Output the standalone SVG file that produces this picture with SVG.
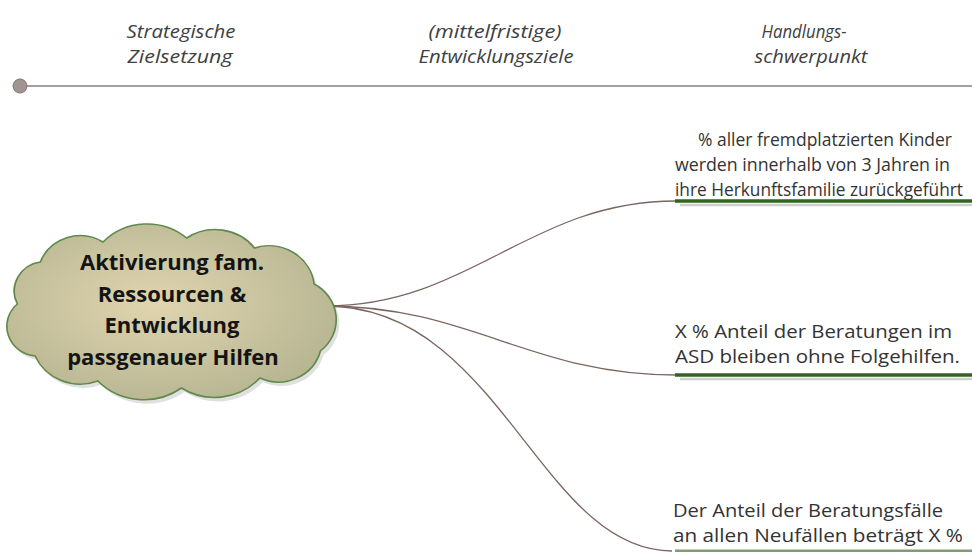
<svg xmlns="http://www.w3.org/2000/svg" width="972" height="552" viewBox="0 0 972 552">
<style>
.hdr{font-family:"Open Sans","Noto Sans",sans-serif;font-style:italic;font-size:18px;fill:#404040;text-anchor:middle}
.ctext{font-family:"Open Sans","Noto Sans",sans-serif;font-weight:bold;font-size:22px;fill:#141414;text-anchor:middle}
.t1{font-family:"Open Sans","Noto Sans",sans-serif;font-size:17.5px;fill:#333}
.t2{font-family:"Open Sans","Noto Sans",sans-serif;font-size:18px;fill:#333}
.conn{fill:none;stroke:#7a6660;stroke-width:1.3}
.bar{stroke:#2f6521;stroke-width:3.5}
.shadow{stroke:#cfcfcf;stroke-width:2.5}
</style>
<defs>
<radialGradient id="cloudFill" cx="0.45" cy="0.45" r="0.6">
<stop offset="0" stop-color="#e0d5af"/>
<stop offset="1" stop-color="#b7b592"/>
</radialGradient>
<path id="cloudShape" d="M28,298 A29.4,29.4 0 0 1 50,256 A40.8,40.8 0 0 1 110,236 A58.1,58.1 0 0 1 190,232 A48.1,48.1 0 0 1 255,242 A43.5,43.5 0 0 1 312,278 A40.4,40.4 0 0 1 318,345 A41.6,41.6 0 0 1 260,372 A58.1,58.1 0 0 1 185,382 A61.2,61.2 0 0 1 105,375 A47.1,47.1 0 0 1 45,350 A29.8,29.8 0 0 1 28,298 Z"/>
</defs>
<g id="timeline">
<line x1="26" y1="86" x2="972" y2="86" stroke="#8a7f7a" stroke-width="1.6"/>
<circle cx="20" cy="86" r="7" fill="#a09590" stroke="#7f7470" stroke-width="1"/>
</g>
<g id="headers">
<text class="hdr" x="181" y="38" textLength="109" lengthAdjust="spacingAndGlyphs">Strategische</text>
<text class="hdr" x="180" y="63" textLength="105" lengthAdjust="spacingAndGlyphs">Zielsetzung</text>
<text class="hdr" x="495" y="38" textLength="133" lengthAdjust="spacingAndGlyphs">(mittelfristige)</text>
<text class="hdr" x="496" y="63" textLength="155" lengthAdjust="spacingAndGlyphs">Entwicklungsziele</text>
<text class="hdr" x="804" y="38" textLength="85" lengthAdjust="spacingAndGlyphs">Handlungs-</text>
<text class="hdr" x="811" y="63" textLength="113" lengthAdjust="spacingAndGlyphs">schwerpunkt</text>
</g>
<g id="connectors">
<path class="conn" d="M326,306 C470,306 530,201 676,201"/>
<path class="conn" d="M326,306 C470,306 530,375 676,375"/>
<path class="conn" d="M326,306 C500,306 540,551 672,551"/>
</g>
<g id="cloud">
<g transform="translate(-11.9,6) scale(1.045,1)">
<use href="#cloudShape" transform="translate(3,4)" fill="#000" opacity="0.12"/>
<use href="#cloudShape" fill="url(#cloudFill)" stroke="#5f8a4b" stroke-width="1.6"/>
</g>
<text class="ctext" x="172" y="270">Aktivierung fam.</text>
<text class="ctext" x="172" y="302">Ressourcen &amp;</text>
<text class="ctext" x="172" y="333">Entwicklung</text>
<text class="ctext" x="173" y="365">passgenauer Hilfen</text>
</g>
<g id="goal1">
<line class="shadow" x1="680" y1="205" x2="972" y2="205"/>
<line class="bar" x1="675" y1="201" x2="972" y2="201"/>
<text class="t1" x="698" y="146" textLength="254" lengthAdjust="spacingAndGlyphs">% aller fremdplatzierten Kinder</text>
<text class="t1" x="675" y="171" textLength="275" lengthAdjust="spacingAndGlyphs">werden innerhalb von 3 Jahren in</text>
<text class="t1" x="675" y="196" textLength="288" lengthAdjust="spacingAndGlyphs">ihre Herkunftsfamilie zurückgeführt</text>
</g>
<g id="goal2">
<line class="shadow" x1="680" y1="379" x2="972" y2="379"/>
<line class="bar" x1="675" y1="375" x2="972" y2="375"/>
<text class="t2" x="675" y="338" textLength="277" lengthAdjust="spacingAndGlyphs">X % Anteil der Beratungen im</text>
<text class="t2" x="675" y="363" textLength="285" lengthAdjust="spacingAndGlyphs">ASD bleiben ohne Folgehilfen.</text>
</g>
<g id="goal3">
<line x1="675" y1="551" x2="972" y2="551" stroke="#7f9f70" stroke-width="3"/>
<text class="t2" x="673" y="517" textLength="270" lengthAdjust="spacingAndGlyphs">Der Anteil der Beratungsfälle</text>
<text class="t2" x="673" y="542" textLength="290" lengthAdjust="spacingAndGlyphs">an allen Neufällen beträgt X %</text>
</g>
</svg>
